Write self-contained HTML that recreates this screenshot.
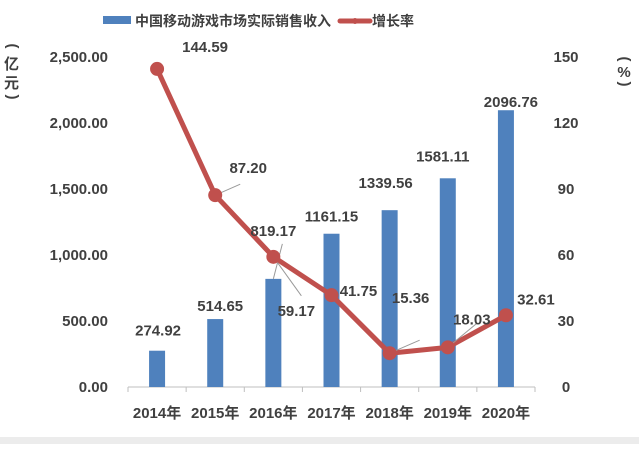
<!DOCTYPE html>
<html><head><meta charset="utf-8"><style>
body{margin:0;background:#fff;}
svg text{font-family:"Liberation Sans","Noto Sans CJK SC",sans-serif;font-weight:bold;fill:#404040;}
</style></head><body>
<svg width="639" height="444" xmlns="http://www.w3.org/2000/svg">
<rect x="0" y="437" width="639" height="7" fill="#ececec"/>
<g id="legend">
<rect x="103" y="16" width="28" height="8" fill="#4f81bd"/>
<text x="135" y="26" font-size="14">中国移动游戏市场实际销售收入</text>
<line x1="340" y1="21" x2="370" y2="21" stroke="#c0504d" stroke-width="5" stroke-linecap="round"/>
<circle cx="355" cy="21" r="3" fill="#c0504d"/>
<text x="372" y="26" font-size="14">增长率</text>
</g>
<g font-size="15">
<text x="12" y="50" text-anchor="middle" transform="rotate(90 12 46)">(</text>
<text x="4" y="69">亿</text>
<text x="4" y="88">元</text>
<text x="12" y="101" text-anchor="middle" transform="rotate(90 12 97)">)</text>
</g>
<g font-size="15">
<text x="624" y="63" text-anchor="middle" transform="rotate(90 624 59)">(</text>
<text x="624" y="77" text-anchor="middle">%</text>
<text x="624" y="88" text-anchor="middle" transform="rotate(90 624 84)">)</text>
</g>
<g id="axes"></g><g id="bars"></g><g id="line"></g><g id="labels"></g>
</svg>
<script>
const categories=["2014年","2015年","2016年","2017年","2018年","2019年","2020年"];
const revenue=[274.92,514.65,819.17,1161.15,1339.56,1581.11,2096.76];
const growth=[144.59,87.20,59.17,41.75,15.36,18.03,32.61];
const leftTicks=[0,500,1000,1500,2000,2500];
const rightTicks=[0,30,60,90,120,150];
const NS="http://www.w3.org/2000/svg";
const x0=128,x1=535,yB=387,yT=57;
const bw=(x1-x0)/categories.length;
const xC=i=>x0+bw*(i+0.5);
const yL=v=>yB-(v/2500)*(yB-yT);
const yR=v=>yB-(v/150)*(yB-yT);
function mk(tag,attrs,parent,txt){const e=document.createElementNS(NS,tag);for(const k in attrs)e.setAttribute(k,attrs[k]);if(txt!==undefined)e.textContent=txt;document.getElementById(parent).appendChild(e);return e;}
const fmt=v=>v.toLocaleString('en-US',{minimumFractionDigits:2,maximumFractionDigits:2});
let e=mk('line',{x1:x0,y1:yB,x2:x1,y2:yB,stroke:'#bfbfbf','stroke-width':1},'axes');


for(let i=0;i<=categories.length;i++){
 e=mk('line',{x1:x0+bw*i,y1:yB,x2:x0+bw*i,y2:yB+5,stroke:'#bfbfbf'},'axes');
 
 
}
categories.forEach((c,i)=>{
 e=mk('text',{x:xC(i),y:418,'text-anchor':'middle','font-size':15},'axes',c);
 
 
});
leftTicks.forEach(v=>{
 e=mk('text',{x:108,y:yL(v)+5,'text-anchor':'end','font-size':15},'axes',fmt(v));
 
 
});
rightTicks.forEach(v=>{
 e=mk('text',{x:566,y:yR(v)+5,'text-anchor':'middle','font-size':15},'axes',String(v));
 
 
});
const bdx=[1,5,0,0,-4,-5,5],bdy=[-21,-14,-49,-18,-28,-23,-9];
revenue.forEach((v,i)=>{
 e=mk('rect',{x:xC(i)-8,y:yL(v),width:16,height:yB-yL(v),fill:'#4f81bd'},'bars');
 
 
 e=mk('text',{x:xC(i)+bdx[i],y:yL(v)+bdy[i]+6,'text-anchor':'middle','font-size':15},'labels',v.toFixed(2));
 
 
});
// 819.17 leader from bar top
e=mk('line',{x1:xC(2),y1:yL(revenue[2]),x2:xC(2)+9,y2:yL(revenue[2])-35,stroke:'#999','stroke-width':1},'line');


const pts=growth.map((v,i)=>xC(i)+','+yR(v)).join(' ');
e=mk('polyline',{points:pts,fill:'none',stroke:'#c0504d','stroke-width':5,'stroke-linejoin':'round'},'line');


const ldx=[48,33,23,27,21,24,30],ldy=[-23,-28,53,-5,-56,-29,-17];
const lex=[0,25,28,0,30,29,0],ley=[0,-11,39,0,-13,-24,0];
growth.forEach((v,i)=>{
 const cx=xC(i),cy=yR(v);
 if(lex[i]){
  e=mk('line',{x1:cx,y1:cy,x2:cx+lex[i],y2:cy+ley[i],stroke:'#999','stroke-width':1},'line');
  
  
 }
 e=mk('circle',{cx:cx,cy:cy,r:7,fill:'#c0504d'},'line');
 
 
 e=mk('text',{x:cx+ldx[i],y:cy+ldy[i]+6,'text-anchor':'middle','font-size':15},'labels',v.toFixed(2));
 
 
});
</script>
</body></html>
